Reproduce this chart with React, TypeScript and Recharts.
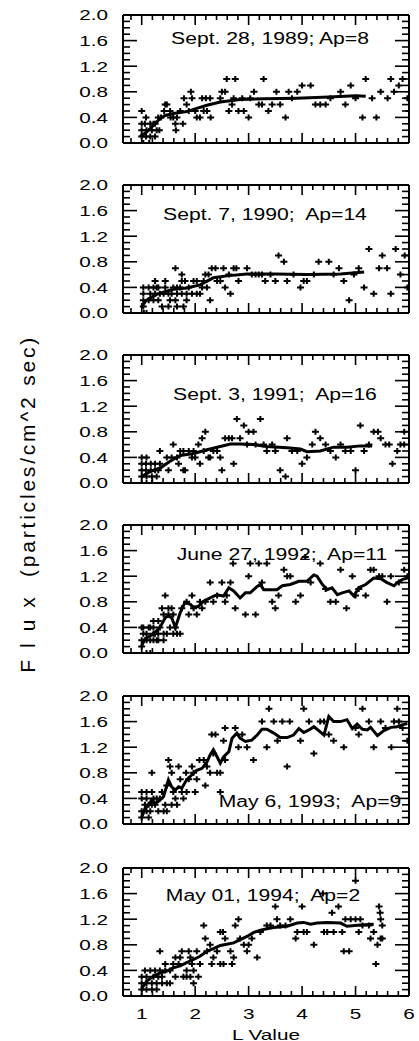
import { ComposedChart, Scatter, Line, XAxis, YAxis } from 'recharts';

type Pt = [number, number];

const FONT = '"Liberation Sans", Arial, sans-serif';
const STRETCH = 1.38;

const xTicks = [0.8, 1, 1.2, 1.4, 1.6, 1.8, 2, 2.2, 2.4, 2.6, 2.8, 3, 3.2, 3.4, 3.6, 3.8, 4, 4.2, 4.4, 4.6, 4.8, 5, 5.2, 5.4, 5.6, 5.8, 6];
const yTicks = [0, 0.1, 0.2, 0.3, 0.4, 0.5, 0.6, 0.7, 0.8, 0.9, 1, 1.1, 1.2, 1.3, 1.4, 1.5, 1.6, 1.7, 1.8, 1.9, 2];

const titles = [
  'Sept. 28, 1989; Ap=8',
  'Sept. 7, 1990;  Ap=14',
  'Sept. 3, 1991;  Ap=16',
  'June 27, 1992;  Ap=11',
  'May 6, 1993;  Ap=9',
  'May 01, 1994;  Ap=2',
];

// measured flux points (L, flux) per pass
const pts1: Pt[] = [
  [1.0, 0.5], [1.08, 0.4], [1.0, 0.3], [1.06, 0.3], [1.16, 0.3], [1.25, 0.3], [1.0, 0.2], [1.09, 0.2], [1.19, 0.2], [1.28, 0.2],
  [1.33, 0.2], [1.0, 0.1], [1.08, 0.1], [1.16, 0.1], [1.25, 0.1], [1.03, 0.0], [1.14, 0.0], [1.22, 0.3], [1.31, 0.4], [1.36, 0.4],
  [1.44, 0.6], [1.47, 0.6], [1.42, 0.5], [1.53, 0.5], [1.54, 0.4], [1.59, 0.4], [1.66, 0.4], [1.63, 0.3], [1.64, 0.2], [1.72, 0.5],
  [1.77, 0.3], [1.79, 0.7], [1.84, 0.6], [1.88, 0.5], [1.94, 0.7], [1.92, 0.8], [2.0, 0.5], [2.03, 0.4], [2.09, 0.4], [2.13, 0.7],
  [2.2, 0.7], [2.16, 0.5], [2.22, 0.5], [2.29, 0.4], [2.28, 0.7], [2.47, 0.7], [2.5, 0.8], [2.56, 0.8], [2.63, 0.5], [2.69, 0.6],
  [2.72, 0.7], [2.59, 1.0], [2.75, 1.0], [2.81, 0.5], [2.91, 0.5], [3.0, 0.4], [2.88, 0.7], [3.1, 0.8], [3.03, 0.7], [3.28, 1.0],
  [3.19, 0.6], [3.25, 0.6], [3.37, 0.5], [3.44, 0.6], [3.59, 0.6], [3.52, 0.8], [3.69, 0.4], [3.75, 0.8], [3.91, 0.8], [4.0, 0.9],
  [4.16, 0.9], [3.81, 0.7], [4.25, 0.6], [4.34, 0.6], [4.44, 0.6], [4.53, 0.7], [4.72, 0.8], [4.81, 0.6], [4.91, 0.9], [5.0, 0.7],
  [5.13, 0.4], [5.19, 1.0], [5.31, 0.7], [5.39, 0.4], [5.47, 0.8], [5.6, 0.7], [5.66, 1.0], [5.72, 0.8], [5.81, 0.9], [5.88, 1.0],
  [5.97, 0.7], [6.0, 0.5],
];
const fit1: Pt[] = [
  [0.97, 0.1], [1.09, 0.17], [1.25, 0.3], [1.34, 0.38], [1.44, 0.43], [1.59, 0.46], [1.84, 0.49], [2.03, 0.54], [2.22, 0.59],
  [2.47, 0.64], [2.84, 0.68], [3.3, 0.69], [3.9, 0.7], [4.5, 0.72], [5.0, 0.74], [5.19, 0.73],
];

const pts2: Pt[] = [
  [1.03, 0.4], [1.13, 0.4], [1.22, 0.4], [1.28, 0.4], [1.31, 0.4], [1.03, 0.3], [1.16, 0.3], [1.25, 0.3], [1.34, 0.3], [1.03, 0.2],
  [1.13, 0.2], [1.22, 0.2], [1.31, 0.2], [1.03, 0.1], [1.09, 0.0], [1.04, 0.0], [1.25, 0.5], [1.44, 0.5], [1.44, 0.4], [1.41, 0.3],
  [1.5, 0.3], [1.56, 0.3], [1.66, 0.3], [1.75, 0.3], [1.84, 0.3], [1.94, 0.3], [2.03, 0.3], [2.09, 0.3], [1.38, 0.1], [1.5, 0.1],
  [1.66, 0.1], [1.78, 0.1], [1.53, 0.2], [1.63, 0.2], [1.84, 0.2], [1.59, 0.4], [1.66, 0.4], [1.72, 0.4], [1.88, 0.4], [1.63, 0.7],
  [1.75, 0.6], [1.75, 0.5], [1.81, 0.5], [1.97, 0.5], [2.03, 0.5], [2.16, 0.5], [2.13, 0.4], [2.22, 0.4], [2.19, 0.6], [2.25, 0.6],
  [2.28, 0.2], [2.31, 0.7], [2.38, 0.7], [2.41, 0.5], [2.47, 0.5], [2.53, 0.7], [2.56, 0.4], [2.63, 0.6], [2.66, 0.3], [2.72, 0.7],
  [2.77, 0.7], [2.81, 0.5], [2.97, 0.7], [3.06, 0.6], [3.13, 0.6], [3.19, 0.6], [3.25, 0.6], [3.41, 0.6], [3.31, 0.5], [3.5, 0.5],
  [3.56, 0.9], [3.66, 0.8], [3.72, 0.5], [3.84, 0.6], [3.97, 0.4], [4.03, 0.5], [4.09, 0.5], [4.22, 0.6], [4.31, 0.8], [4.5, 0.8],
  [4.59, 0.6], [4.69, 0.7], [4.78, 0.5], [4.88, 0.2], [4.97, 0.6], [5.06, 0.7], [5.16, 0.4], [5.25, 1.0], [5.34, 0.3], [5.44, 0.7],
  [5.5, 0.9], [5.59, 0.7], [5.66, 0.3], [5.75, 1.0], [5.84, 0.6], [5.92, 0.9], [5.97, 0.4],
];
const fit2: Pt[] = [
  [1.0, 0.1], [1.09, 0.2], [1.28, 0.29], [1.59, 0.37], [1.84, 0.39], [2.09, 0.44], [2.34, 0.55], [2.59, 0.58], [2.97, 0.61],
  [3.47, 0.61], [4.09, 0.6], [4.72, 0.61], [5.16, 0.64],
];

const pts3: Pt[] = [
  [1.0, 0.4], [1.09, 0.4], [1.0, 0.3], [1.08, 0.3], [1.17, 0.3], [1.25, 0.3], [1.0, 0.2], [1.08, 0.2], [1.17, 0.2], [1.25, 0.2],
  [1.31, 0.2], [1.0, 0.1], [1.09, 0.1], [1.19, 0.1], [1.28, 0.1], [1.0, 0.0], [1.09, 0.0], [1.19, 0.0], [1.34, 0.5], [1.34, 0.3],
  [1.47, 0.4], [1.5, 0.2], [1.56, 0.4], [1.59, 0.6], [1.66, 0.4], [1.69, 0.3], [1.72, 0.5], [1.78, 0.2], [1.81, 0.2], [1.78, 0.5],
  [1.88, 0.5], [1.94, 0.4], [1.97, 0.5], [2.0, 0.4], [2.06, 0.6], [2.09, 0.3], [2.13, 0.7], [2.19, 0.8], [2.25, 0.4], [2.28, 0.4],
  [2.16, 0.5], [2.34, 0.5], [2.41, 0.5], [2.47, 0.4], [2.5, 0.2], [2.56, 0.7], [2.63, 0.7], [2.69, 0.7], [2.72, 0.3], [2.78, 1.0],
  [2.84, 0.7], [2.91, 0.9], [2.97, 0.6], [3.0, 0.8], [3.09, 0.8], [3.13, 0.6], [3.22, 1.0], [3.28, 0.6], [3.34, 0.5], [3.44, 0.6],
  [3.5, 0.5], [3.59, 0.2], [3.69, 0.1], [3.72, 0.7], [3.81, 0.5], [3.91, 0.5], [4.0, 0.3], [4.09, 0.4], [4.19, 0.6], [4.25, 0.8],
  [4.34, 0.7], [4.44, 0.6], [4.53, 0.5], [4.63, 0.4], [4.72, 0.6], [4.81, 0.5], [4.91, 0.5], [5.0, 0.2], [5.09, 0.9], [5.16, 0.5],
  [5.25, 0.6], [5.34, 0.8], [5.42, 0.8], [5.47, 0.7], [5.56, 0.6], [5.63, 0.6], [5.69, 0.3], [5.78, 0.5], [5.84, 0.6], [5.91, 0.6],
  [5.91, 0.8],
];
const fit3: Pt[] = [
  [1.0, 0.1], [1.16, 0.18], [1.34, 0.23], [1.53, 0.34], [1.72, 0.43], [1.97, 0.46], [2.22, 0.52], [2.47, 0.57], [2.66, 0.61],
  [2.84, 0.61], [3.09, 0.6], [3.34, 0.57], [3.72, 0.55], [3.97, 0.53], [4.09, 0.49], [4.34, 0.5], [4.59, 0.56], [4.84, 0.56],
  [5.09, 0.58], [5.31, 0.58],
];

const pts4: Pt[] = [
  [1.0, 0.4], [1.09, 0.3], [1.0, 0.2], [1.09, 0.2], [1.0, 0.1], [1.09, 0.0], [1.16, 0.0], [1.16, 0.4], [1.22, 0.5], [1.31, 0.5],
  [1.25, 0.3], [1.31, 0.2], [1.41, 0.2], [1.34, 0.4], [1.38, 0.7], [1.44, 0.9], [1.5, 0.7], [1.5, 0.6], [1.41, 0.6], [1.47, 0.3],
  [1.53, 0.4], [1.03, 0.4], [1.13, 0.4], [1.22, 0.4], [1.03, 0.3], [1.22, 0.3], [1.31, 0.3], [1.41, 0.3], [1.16, 0.2], [1.22, 0.2],
  [1.28, 0.2], [1.56, 0.7], [1.59, 0.6], [1.63, 0.4], [1.59, 0.3], [1.66, 0.3], [1.72, 0.3], [1.75, 0.7], [1.84, 0.8], [1.94, 0.9],
  [1.88, 0.6], [1.97, 0.7], [2.03, 0.6], [2.09, 0.8], [2.13, 0.7], [2.19, 0.8], [2.28, 1.1], [2.34, 0.8], [2.41, 0.9], [2.5, 1.1],
  [2.56, 0.8], [2.59, 0.9], [2.66, 1.1], [2.71, 1.4], [2.75, 0.7], [2.94, 0.6], [3.0, 1.2], [3.03, 1.4], [3.13, 0.6], [3.19, 1.4],
  [3.25, 1.1], [3.34, 1.4], [3.44, 0.8], [3.5, 0.7], [3.56, 0.9], [3.66, 1.3], [3.72, 1.2], [3.78, 1.2], [3.88, 0.8], [3.97, 0.9],
  [4.06, 1.5], [4.16, 1.1], [4.34, 1.4], [4.44, 1.0], [4.53, 0.8], [4.63, 0.8], [4.69, -0.1], [4.72, 1.3], [4.83, 0.7], [4.94, 1.2],
  [5.0, 0.9], [5.06, 1.0], [5.19, 0.9], [5.28, 1.3], [5.34, 1.3], [5.44, 1.2], [5.5, 1.2], [5.59, 0.8], [5.66, 1.2], [5.81, 1.1],
  [5.91, 1.3], [5.97, 1.2],
];
const fit4: Pt[] = [
  [1.0, 0.11], [1.06, 0.22], [1.16, 0.27], [1.25, 0.32], [1.34, 0.4], [1.44, 0.55], [1.5, 0.58], [1.56, 0.55], [1.63, 0.4],
  [1.72, 0.63], [1.81, 0.79], [1.91, 0.76], [1.97, 0.71], [2.06, 0.73], [2.16, 0.81], [2.28, 0.86], [2.41, 0.91], [2.53, 0.89],
  [2.63, 1.02], [2.72, 0.97], [2.84, 0.86], [2.94, 0.94], [3.03, 0.94], [3.16, 1.04], [3.22, 1.07], [3.28, 0.99], [3.41, 0.99],
  [3.53, 0.99], [3.63, 1.05], [3.78, 1.07], [3.94, 1.12], [4.09, 1.12], [4.22, 1.22], [4.28, 1.2], [4.38, 1.07], [4.47, 0.99],
  [4.56, 1.02], [4.66, 0.91], [4.75, 0.94], [4.88, 0.97], [4.97, 0.89], [5.06, 1.02], [5.19, 1.07], [5.34, 1.17], [5.47, 1.16],
  [5.59, 1.1], [5.72, 1.05], [5.78, 1.1], [5.88, 1.15], [5.97, 1.17],
];

const pts5: Pt[] = [
  [1.0, 0.5], [1.09, 0.5], [1.0, 0.4], [1.06, 0.3], [1.0, 0.2], [1.09, 0.2], [1.0, 0.1], [1.13, 0.1], [1.19, 0.5], [1.22, 0.4],
  [1.19, 0.8], [1.25, 0.3], [1.31, 0.2], [1.34, 0.4], [1.38, 0.5], [1.44, 0.3], [1.41, 0.2], [1.47, 0.2], [1.13, 0.3], [1.19, 0.3],
  [1.09, 0.4], [1.28, 0.4], [1.16, 0.2], [1.47, 0.6], [1.5, 1.0], [1.53, 0.9], [1.56, 0.8], [1.59, 0.5], [1.63, 0.4], [1.66, 0.3],
  [1.56, 0.3], [1.69, 0.9], [1.72, 0.7], [1.75, 0.5], [1.78, 0.4], [1.83, 0.8], [1.88, 0.7], [1.84, 0.5], [1.94, 0.9], [1.97, 0.8],
  [2.0, 0.5], [2.03, 0.7], [2.08, 1.0], [2.16, 1.0], [2.19, 0.6], [2.22, 0.9], [2.28, 0.8], [2.34, 1.1], [2.41, 0.8], [2.47, 0.8],
  [2.31, 1.4], [2.38, 1.4], [2.53, 1.3], [2.47, 0.5], [2.56, 1.0], [2.56, 1.5], [2.75, 1.5], [2.81, 1.2], [2.88, 1.4], [2.97, 1.2],
  [3.09, 1.0], [3.25, 1.6], [3.34, 1.2], [3.38, 1.8], [3.47, 1.6], [3.54, 1.3], [3.63, 1.6], [3.72, 0.9], [3.77, 1.6], [3.97, 1.3],
  [4.03, 1.8], [4.13, 1.6], [4.22, 1.1], [4.34, 1.6], [4.41, 1.6], [4.5, 1.4], [4.59, 1.3], [4.78, 1.2], [5.0, 1.5], [5.06, 1.4],
  [5.13, 1.8], [5.25, 1.6], [5.34, 1.2], [5.47, 1.6], [5.56, 1.5], [5.67, 1.2], [5.72, 1.6], [5.78, 1.8], [5.88, 1.5], [5.97, 1.3],
  [5.81, 1.6],
];
const fit5: Pt[] = [
  [1.0, 0.1], [1.06, 0.24], [1.13, 0.3], [1.19, 0.38], [1.25, 0.32], [1.31, 0.35], [1.41, 0.43], [1.5, 0.69], [1.56, 0.58],
  [1.63, 0.53], [1.69, 0.58], [1.75, 0.56], [1.84, 0.69], [1.94, 0.77], [2.03, 0.84], [2.13, 0.87], [2.22, 0.97], [2.28, 1.08],
  [2.34, 1.16], [2.41, 1.05], [2.47, 0.95], [2.53, 1.05], [2.63, 1.13], [2.69, 1.34], [2.78, 1.42], [2.84, 1.34], [2.94, 1.29],
  [3.06, 1.31], [3.16, 1.39], [3.25, 1.48], [3.34, 1.48], [3.47, 1.42], [3.59, 1.35], [3.72, 1.35], [3.84, 1.39], [3.94, 1.49],
  [4.03, 1.43], [4.13, 1.47], [4.22, 1.52], [4.34, 1.44], [4.41, 1.39], [4.5, 1.68], [4.59, 1.6], [4.72, 1.6], [4.84, 1.63],
  [4.94, 1.49], [5.03, 1.56], [5.13, 1.48], [5.22, 1.47], [5.28, 1.51], [5.41, 1.38], [5.53, 1.46], [5.66, 1.51], [5.78, 1.52],
  [5.91, 1.56], [5.97, 1.57],
];

const pts6: Pt[] = [
  [1.0, 0.0], [1.0, 0.1], [1.09, 0.1], [1.19, 0.1], [1.28, 0.1], [1.0, 0.2], [1.09, 0.2], [1.19, 0.2], [1.28, 0.2], [1.38, 0.2],
  [1.47, 0.2], [1.53, 0.2], [1.0, 0.3], [1.09, 0.3], [1.22, 0.3], [1.31, 0.3], [1.38, 0.3], [1.06, 0.4], [1.16, 0.4], [1.25, 0.4],
  [1.34, 0.4], [1.44, 0.4], [1.53, 0.4], [1.34, 0.7], [1.44, 0.5], [1.59, 0.5], [1.63, 0.6], [1.63, 0.3], [1.69, 0.5], [1.72, 0.6],
  [1.75, 0.7], [1.78, 0.3], [1.84, 0.4], [1.88, 0.7], [1.91, 0.6], [1.94, 0.5], [1.84, 0.3], [1.91, 0.3], [1.97, 0.4], [1.97, 0.2],
  [2.03, 0.7], [2.06, 0.3], [2.09, 0.5], [2.16, 1.1], [2.19, 0.9], [2.22, 0.7], [2.28, 0.8], [2.34, 0.6], [2.41, 0.7], [2.31, 0.5],
  [2.47, 0.5], [2.53, 0.5], [2.47, 1.0], [2.52, 1.0], [2.56, 0.9], [2.66, 0.7], [2.69, 0.5], [2.72, 0.6], [2.75, 1.1], [2.81, 1.2],
  [2.84, 0.9], [2.91, 0.8], [2.97, 0.7], [3.0, 0.8], [3.06, 0.9], [3.16, 0.6], [3.22, 1.0], [3.34, 1.1], [3.41, 1.1], [3.5, 1.4],
  [3.53, 1.2], [3.59, 1.1], [3.69, 1.1], [3.78, 1.2], [3.88, 0.9], [3.91, 1.0], [4.0, 1.4], [4.03, 1.0], [4.09, 1.0], [4.22, 0.8],
  [4.41, 1.0], [4.47, 1.0], [4.39, 1.6], [4.56, 1.3], [4.68, 1.4], [4.59, 1.0], [4.75, 1.0], [4.78, 0.7], [4.88, 0.7], [4.81, 1.2],
  [4.91, 1.2], [5.0, 1.2], [5.06, 1.0], [5.09, 1.2], [5.13, 1.1], [5.25, 1.1], [5.0, 1.8], [5.28, 0.9], [5.34, 1.0], [5.38, 0.5],
  [5.41, 0.8], [5.44, 1.4], [5.46, 1.3], [5.47, 1.2], [5.5, 1.1], [5.47, 0.9], [5.5, 0.9],
];
const fit6: Pt[] = [
  [1.0, 0.12], [1.09, 0.23], [1.22, 0.31], [1.34, 0.36], [1.47, 0.39], [1.59, 0.44], [1.72, 0.47], [1.84, 0.52], [1.97, 0.57],
  [2.09, 0.62], [2.22, 0.7], [2.34, 0.74], [2.47, 0.79], [2.59, 0.81], [2.72, 0.83], [2.84, 0.88], [2.97, 0.93], [3.09, 0.99],
  [3.22, 1.03], [3.47, 1.07], [3.72, 1.09], [3.91, 1.14], [4.03, 1.15], [4.16, 1.12], [4.28, 1.14], [4.47, 1.15], [4.72, 1.14],
  [4.84, 1.09], [5.09, 1.11], [5.34, 1.12],
];

const panelPoints = [pts1, pts2, pts3, pts4, pts5, pts6];
const panelFits = [fit1, fit2, fit3, fit4, fit5, fit6];

// page layout (plot box tops and title centres)
const boxTops = [15, 185, 355, 525, 696, 868];
const titleCentres: [number, number][] = [[270, 39], [265, 215], [275, 395], [282, 555], [310, 802], [263, 896]];

const BOX_H = 128;
const LEFT_W = 123;

const isMajorX = (v: number) => Math.abs(v - Math.round(v)) < 1e-6;
const isMajorY = (v: number) => Math.abs(v / 0.4 - Math.round(v / 0.4)) < 1e-6;

const tickStyle = { stroke: '#000', strokeWidth: 1.6 };

const tickText = (x: number, y: number, anchor: 'start' | 'middle' | 'end', label: string) => (
  <text
    transform={`translate(${x},${y}) scale(${STRETCH},1)`}
    textAnchor={anchor}
    dy="0.36em"
    fontSize={15}
    fontFamily={FONT}
    fill="#000"
  >
    {label}
  </text>
);

const bottomTick = (showLabels: boolean) => (p: any) => {
  const { x, y, payload } = p;
  const major = isMajorX(payload.value);
  return (
    <g>
      <line x1={x} y1={y} x2={x} y2={y - (major ? 10 : 5)} style={tickStyle} />
      {showLabels && major ? tickText(x, y + 18, 'middle', String(payload.value)) : null}
    </g>
  );
};

const topTick = (p: any) => {
  const { x, y, payload } = p;
  const major = isMajorX(payload.value);
  return <line x1={x} y1={y} x2={x} y2={y + (major ? 10 : 5)} style={tickStyle} />;
};

const leftTick = (p: any) => {
  const { x, y, payload } = p;
  const major = isMajorY(payload.value);
  return (
    <g>
      <line x1={x} y1={y} x2={x + (major ? 14 : 7)} y2={y} style={tickStyle} />
      {major ? tickText(x - 15, y, 'end', payload.value.toFixed(1)) : null}
    </g>
  );
};

const rightTick = (p: any) => {
  const { x, y, payload } = p;
  const major = isMajorY(payload.value);
  return <line x1={x} y1={y} x2={x - (major ? 14 : 7)} y2={y} style={tickStyle} />;
};

const plus = (p: any) => (
  <path d={`M${p.cx - 3.5},${p.cy}h7M${p.cx},${p.cy - 3}v6`} style={{ stroke: '#000', strokeWidth: 2, fill: 'none' }} />
);

const axisLine = { stroke: '#000', strokeWidth: 2 };

function Panel({ index }: { index: number }) {
  const last = index === 5;
  const top = boxTops[index];
  const bottomH = last ? 45 : 10;
  const h = 10 + BOX_H + bottomH;
  const pts = panelPoints[index].map(([L, v]) => ({ L, v }));
  const fit = panelFits[index].map(([L, v]) => ({ L, v }));

  return (
    <div style={{ position: 'absolute', left: 0, top: top - 10, width: 419, height: h }}>
      <ComposedChart width={419} height={h} margin={{ top: 9, right: 9, bottom: last ? 0 : 9, left: 0 }}>
        <XAxis
          xAxisId="b"
          type="number"
          dataKey="L"
          domain={[0.65, 6]}
          allowDataOverflow
          ticks={xTicks}
          interval={0}
          tickSize={0}
          tickMargin={0}
          height={last ? 45 : 1}
          axisLine={axisLine}
          tickLine={false}
          tick={bottomTick(last)}
        />
        <XAxis
          xAxisId="t"
          orientation="top"
          type="number"
          dataKey="L"
          domain={[0.65, 6]}
          allowDataOverflow
          ticks={xTicks}
          interval={0}
          tickSize={0}
          tickMargin={0}
          height={1}
          axisLine={axisLine}
          tickLine={false}
          tick={topTick}
        />
        <YAxis
          yAxisId="l"
          type="number"
          dataKey="v"
          domain={[0, 2]}
          allowDataOverflow
          ticks={yTicks}
          interval={0}
          tickSize={0}
          tickMargin={0}
          width={LEFT_W}
          axisLine={axisLine}
          tickLine={false}
          tick={leftTick}
        />
        <YAxis
          yAxisId="r"
          orientation="right"
          type="number"
          dataKey="v"
          domain={[0, 2]}
          allowDataOverflow
          ticks={yTicks}
          interval={0}
          tickSize={0}
          tickMargin={0}
          width={1}
          axisLine={axisLine}
          tickLine={false}
          tick={rightTick}
        />
        <Scatter xAxisId="b" yAxisId="l" data={pts} dataKey="v" shape={plus} isAnimationActive={false} />
        <Line
          xAxisId="b"
          yAxisId="l"
          data={fit}
          dataKey="v"
          type="linear"
          stroke="#000"
          strokeWidth={3}
          dot={false}
          activeDot={false}
          isAnimationActive={false}
        />
      </ComposedChart>
    </div>
  );
}

const textBase: React.CSSProperties = {
  position: 'absolute',
  whiteSpace: 'pre',
  fontFamily: FONT,
  color: '#000',
  lineHeight: 1,
};

export default function App() {
  return (
    <div style={{ position: 'absolute', left: 0, top: 0, width: 419, height: 1041, background: '#fff', overflow: 'hidden' }}>
      {titles.map((t, i) => <Panel key={t} index={i} />)}
      {titles.map((t, i) => (
        <div
          key={'title' + i}
          style={{
            ...textBase,
            left: titleCentres[i][0],
            top: titleCentres[i][1],
            fontSize: 16,
            transform: 'translate(-50%, -50%) scaleX(1.32)',
          }}
        >
          {t}
        </div>
      ))}
      <div style={{ ...textBase, left: 266, top: 1034, fontSize: 15, transform: `translate(-50%, -50%) scaleX(${STRETCH})` }}>
        L Value
      </div>
      <div
        style={{
          ...textBase,
          left: 27,
          top: 456,
          fontSize: 21,
          letterSpacing: 2.8,
          transform: 'translate(-50%, -50%) rotate(-90deg)',
        }}
      >
        (particles/cm^2 sec)
      </div>
      <div
        style={{
          ...textBase,
          left: 27,
          top: 629,
          fontSize: 21,
          letterSpacing: 12,
          transform: 'translate(-50%, -50%) rotate(-90deg)',
        }}
      >
        Flux
      </div>
    </div>
  );
}
